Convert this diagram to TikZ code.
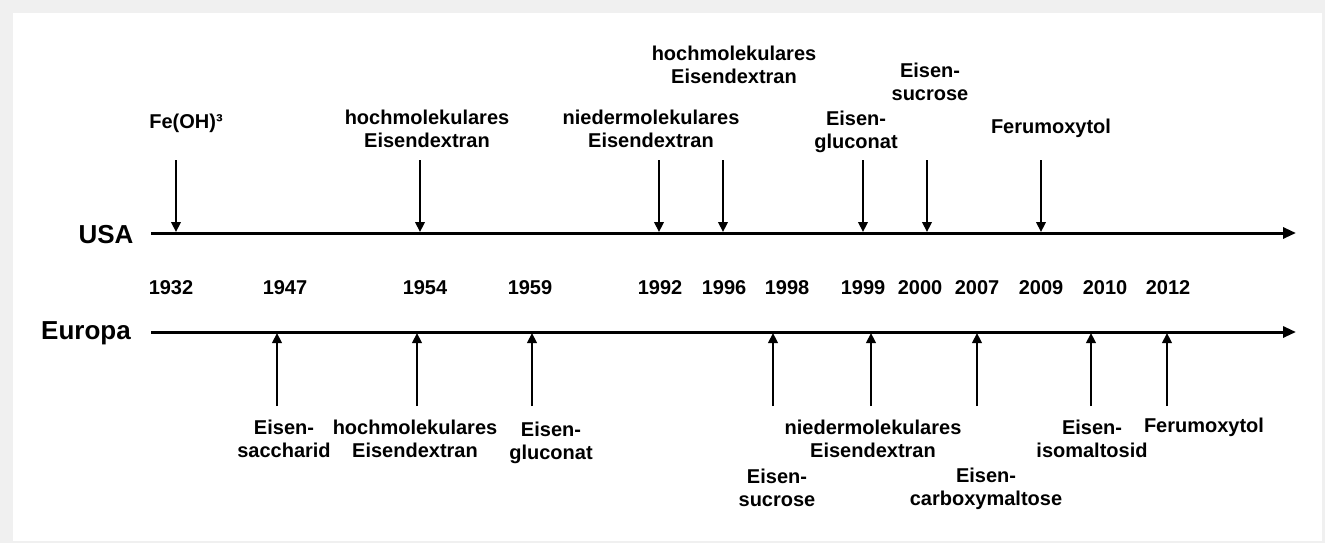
\documentclass[tikz,border=0pt]{standalone}
\usepackage{fontspec}
\setmainfont{Liberation Sans}
\usetikzlibrary{arrows.meta}
\definecolor{framebg}{RGB}{240,240,240}
\begin{document}
\begin{tikzpicture}[x=1pt,y=-1pt,
  lbl/.style={font=\fontsize{20}{23.5}\selectfont\bfseries, align=center, inner sep=0pt},
  yr/.style={font=\fontsize{20}{23.5}\selectfont\bfseries, inner sep=0pt},
  reg/.style={font=\fontsize{26}{30}\selectfont\bfseries, inner sep=0pt},
  axisline/.style={line width=3pt, -{Triangle[length=13pt,width=11pt]}},
  ev/.style={line width=2.3pt, -{Triangle[length=10pt,width=9.5pt]}}]
\fill[framebg] (0,0) rectangle (1325,543);
\fill[white] (13,13) rectangle (1322,541);
\useasboundingbox (0,0) rectangle (1325,543);

% axes
\node[reg] (usa) at (106,235) {USA};
\node[reg] (eur) at (86,333) {Europa};
\coordinate (usaS) at (151,233);
\coordinate (usaE) at (1296,233);
\coordinate (eurS) at (151,332);
\coordinate (eurE) at (1296,332);
\draw[axisline] (usaS) -- (usaE);
\draw[axisline] (eurS) -- (eurE);

% years
\node[yr] (y1932) at (171,288) {1932};
\node[yr] (y1947) at (285,288) {1947};
\node[yr] (y1954) at (425,288) {1954};
\node[yr] (y1959) at (530,288) {1959};
\node[yr] (y1992) at (660,288) {1992};
\node[yr] (y1996) at (724,288) {1996};
\node[yr] (y1998) at (787,288) {1998};
\node[yr] (y1999) at (863,288) {1999};
\node[yr] (y2000) at (920,288) {2000};
\node[yr] (y2007) at (977,288) {2007};
\node[yr] (y2009) at (1041,288) {2009};
\node[yr] (y2010) at (1105,288) {2010};
\node[yr] (y2012) at (1168,288) {2012};

% USA labels
\node[lbl] (uA) at (186,123) {Fe(OH)³};
\node[lbl] (uB) at (427,129) {hochmolekulares\\Eisendextran};
\node[lbl] (uC) at (651,129) {niedermolekulares\\Eisendextran};
\node[lbl] (uD) at (734,65) {hochmolekulares\\Eisendextran};
\node[lbl] (uE) at (856,132) {Eisen-\\gluconat};
\node[lbl] (uF) at (930,82) {Eisen-\\sucrose};
\node[lbl] (uG) at (1051,128) {Ferumoxytol};

% USA arrows
\foreach \n/\x in {a/176,b/420,c/659,d/723,e/863,f/927,g/1041}{
  \coordinate (ut\n) at (\x,160);
  \coordinate (ub\n) at (\x,232);
  \draw[ev] (ut\n) -- (ub\n);
}

% Europa labels
\node[lbl] (eA) at (284,439) {Eisen-\\saccharid};
\node[lbl] (eB) at (415,439) {hochmolekulares\\Eisendextran};
\node[lbl] (eC) at (551,443) {Eisen-\\gluconat};
\node[lbl] (eD) at (777,488) {Eisen-\\sucrose};
\node[lbl] (eE) at (873,439) {niedermolekulares\\Eisendextran};
\node[lbl] (eF) at (986,489) {Eisen-\\carboxymaltose};
\node[lbl] (eG) at (1092,439) {Eisen-\\isomaltosid};
\node[lbl] (eH) at (1204,427) {Ferumoxytol};

% Europa arrows
\foreach \n/\x in {a/277,b/417,c/532,d/773,e/871,f/977,g/1091,h/1167}{
  \coordinate (eb\n) at (\x,406);
  \coordinate (et\n) at (\x,333);
  \draw[ev] (eb\n) -- (et\n);
}
\end{tikzpicture}
\end{document}
